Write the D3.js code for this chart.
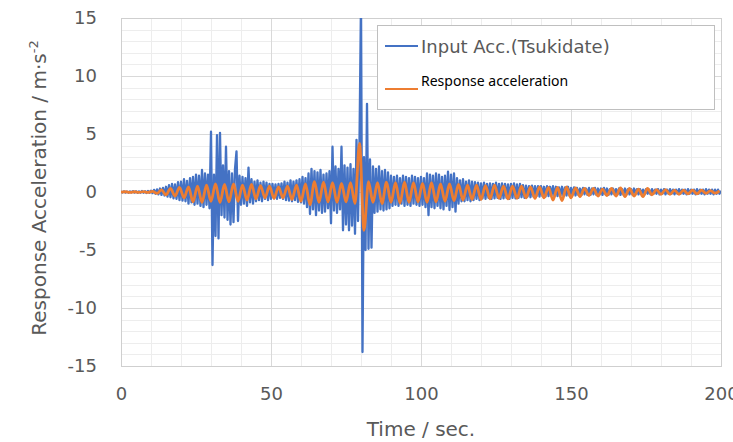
<!DOCTYPE html>
<html>
<head>
<meta charset="utf-8">
<script src="https://cdn.jsdelivr.net/npm/d3@7/dist/d3.min.js"></script>
<style>
    body { margin: 0; background: #fff; }
    svg text { font-family: "DejaVu Sans", Verdana, sans-serif; fill: #595959; }
</style>
</head>
<body>
<div id="chart"></div>
<script>
// sampling steps (sec.) of the two records
var inputStep = 0.5;
var responseStep = 1.5;

// input acceleration, one value every 0.5 s (20 values = 10 s per row)
var inputAcc = [
    0.05, -0.04, 0.06, -0.05, 0.04, -0.06, 0.05, -0.04, 0.07, -0.05, 0.06, -0.07, 0.05, -0.06, 0.08, -0.06, 0.07, -0.08, 0.09, -0.07,
    0.12, -0.1, 0.18, -0.15, 0.22, -0.2, 0.3, -0.25, 0.35, -0.3, 0.45, -0.4, 0.6, -0.45, 0.7, -0.55, 0.65, -0.6, 0.85, -0.7,
    0.9, -0.75, 1.1, -0.8, 0.95, -1.0, 1.2, -0.9, 1.3, -1.1, 1.5, -1.0, 1.4, -1.2, 1.9, -1.3, 1.6, -1.1, 1.5, -1.4,
    5.2, -6.3, 1.5, -3.8, 4.9, -4.0, 5.1, -2.0, 2.3, -2.2, 3.9, -2.4, 1.8, -2.8, 1.6, -2.6, 2.0, 3.5, -2.5, 1.4,
    -1.1, 1.3, -1.0, 1.2, -1.2, 2.1, -0.9, 1.1, -1.0, 0.9, -0.8, 1.0, -0.7, 0.8, -0.8, 0.9, -0.6, 0.8, -0.7, 0.7,
    -0.6, 0.7, -0.55, 0.65, -0.6, 0.7, -0.5, 0.75, -0.6, 0.9, -0.7, 0.8, -0.75, 1.0, -0.8, 0.9, -0.7, 1.0, -0.85, 1.1,
    -0.9, 1.3, -1.0, 1.2, -1.3, 1.6, -1.9, 2.0, -1.5, 1.8, -2.0, 1.7, -1.6, 1.9, -1.8, 1.5, -1.7, 1.6, -1.4, 1.8,
    -2.7, 3.9, -1.6, 2.2, -1.8, 2.0, -1.5, 3.9, -3.3, 2.3, -2.8, 2.1, -3.3, 2.4, -2.9, 2.0, -3.6, 4.5, -2.5, 4.2,
    16.5, -13.8, 3.0, -5.0, 7.6, -4.9, 2.8, -4.8, 2.2, -1.8, 2.0, -1.7, 2.2, -1.5, 1.8, -1.6, 1.9, -1.5, 1.7, -1.4,
    1.4, -1.2, 1.3, -1.1, 1.4, -1.2, 1.2, -1.0, 1.4, -1.2, 1.3, -1.1, 1.2, -1.2, 1.4, -1.0, 1.3, -1.1, 1.2, -1.2,
    1.3, -1.1, 1.2, -1.3, 1.6, -2.0, 1.5, -1.3, 1.4, -1.4, 1.6, -1.2, 1.5, -1.4, 1.3, -1.5, 1.4, -1.2, 1.75, -1.55,
    1.5, -1.3, 1.6, -1.7, 1.2, -1.0, 1.0, -0.8, 1.1, -0.8, 0.9, -0.7, 1.0, -0.8, 0.9, -0.7, 0.85, -0.6, 0.8, -0.7,
    0.75, -0.55, 0.8, -0.6, 0.7, -0.5, 0.75, -0.6, 0.7, -0.55, 0.8, -0.5, 0.7, -0.6, 0.75, -0.55, 0.7, -0.5, 0.65, -0.6,
    0.7, -0.5, 0.75, -0.55, 0.65, -0.5, 0.7, -0.45, 0.6, -0.5, 0.55, -0.4, 0.5, -0.45, 0.55, -0.4, 0.5, -0.35, 0.5, -0.4,
    0.5, -0.35, 0.45, -0.4, 0.5, -0.35, 0.45, -0.3, 0.5, -0.35, 0.45, -0.35, 0.4, -0.3, 0.45, -0.35, 0.4, -0.3, 0.45, -0.3,
    0.35, -0.25, 0.4, -0.3, 0.35, -0.25, 0.3, -0.25, 0.35, -0.2, 0.3, -0.25, 0.35, -0.25, 0.3, -0.2, 0.35, -0.25, 0.3, -0.2,
    0.3, -0.25, 0.35, -0.2, 0.3, -0.25, 0.25, -0.2, 0.3, -0.2, 0.25, -0.2, 0.3, -0.25, 0.25, -0.2, 0.3, -0.2, 0.25, -0.2,
    0.25, -0.2, 0.3, -0.15, 0.25, -0.2, 0.25, -0.15, 0.2, -0.2, 0.25, -0.15, 0.2, -0.2, 0.25, -0.15, 0.2, -0.15, 0.25, -0.2,
    0.2, -0.15, 0.25, -0.2, 0.2, -0.15, 0.25, -0.15, 0.2, -0.2, 0.2, -0.15, 0.25, -0.15, 0.2, -0.15, 0.2, -0.2, 0.25, -0.15,
    0.2, -0.15, 0.2, -0.2, 0.25, -0.15, 0.2, -0.15, 0.2, -0.2, 0.25, -0.15, 0.2, -0.15, 0.2, -0.2, 0.2, -0.15, 0.2, -0.15,
    0.1
];

// response acceleration, peaks every 1.5 s (8 values = 12 s per row)
var responseAcc = [
    -0.02, 0.02, -0.03, 0.02, -0.03, 0.03, -0.04, 0.05,
    -0.12, 0.18, -0.25, 0.3, -0.35, 0.4, -0.5, 0.45,
    -0.85, 0.5, -0.9, 0.6, -0.8, 0.7, -0.9, 0.65,
    -0.85, 0.7, -0.8, 0.6, -0.7, 0.65, -0.6, 0.55,
    -0.5, 0.5, -0.55, 0.45, -0.5, 0.5, -0.65, 0.6,
    -0.8, 0.7, -1.1, 0.9, -0.9, 0.85, -0.85, 0.8,
    -0.9, 0.75, -0.85, 0.8, -1.0, 4.2, -3.3, 0.9,
    -0.9, 0.8, -1.0, 0.85, -0.9, 0.8, -0.95, 0.85,
    -0.9, 0.8, -0.85, 0.75, -0.9, 0.8, -0.85, 0.7,
    -0.8, 0.7, -0.75, 0.65, -0.7, 0.6, -0.65, 0.6,
    -0.65, 0.55, -0.6, 0.6, -0.55, 0.5, -0.6, 0.5,
    -0.55, 0.5, -0.5, 0.45, -0.55, 0.45, -0.5, 0.4,
    -0.7, 0.4, -0.75, 0.45, -0.5, 0.35, -0.4, 0.3,
    -0.3, 0.3, -0.35, 0.25, -0.3, 0.3, -0.35, 0.35,
    -0.4, 0.3, -0.35, 0.25, -0.4, 0.3, -0.25, 0.2,
    -0.2, 0.2, -0.2, 0.15, -0.2, 0.15, -0.15, 0.15,
    -0.15, 0.15, -0.12, 0.12, -0.1, 0.1
];

var xTicks = [0, 50, 100, 150, 200];
var yTicks = [-15, -10, -5, 0, 5, 10, 15];
var seriesNames = ["Input Acc.(Tsukidate)", "Response acceleration"];
var seriesColors = ["#4472c4", "#ed7d31"];

function drawChart() {
    var width = 733, height = 442;
    var plot = { left: 121, top: 18, right: 721, bottom: 366 };

    var svg = d3.select("#chart").append("svg")
        .attr("width", width)
        .attr("height", height);

    var x = d3.scaleLinear().domain([0, 200]).range([plot.left, plot.right]);
    var y = d3.scaleLinear().domain([-15, 15]).range([plot.bottom, plot.top]);

    // minor grid (10 s / 1 m·s-2), then major grid
    var grid = svg.append("g");
    grid.selectAll(".mx").data(x.ticks(20)).enter().append("line")
        .attr("x1", d => Math.round(x(d)) + 0.5).attr("x2", d => Math.round(x(d)) + 0.5)
        .attr("y1", plot.top).attr("y2", plot.bottom)
        .attr("stroke", "#ededed");
    grid.selectAll(".my").data(y.ticks(30)).enter().append("line")
        .attr("y1", d => Math.round(y(d)) + 0.5).attr("y2", d => Math.round(y(d)) + 0.5)
        .attr("x1", plot.left).attr("x2", plot.right)
        .attr("stroke", "#ededed");
    grid.selectAll(".gx").data(xTicks).enter().append("line")
        .attr("x1", d => Math.round(x(d)) + 0.5).attr("x2", d => Math.round(x(d)) + 0.5)
        .attr("y1", plot.top).attr("y2", plot.bottom)
        .attr("stroke", "#d9d9d9");
    grid.selectAll(".gy").data(yTicks).enter().append("line")
        .attr("y1", d => Math.round(y(d)) + 0.5).attr("y2", d => Math.round(y(d)) + 0.5)
        .attr("x1", plot.left).attr("x2", plot.right)
        .attr("stroke", "#d9d9d9");
    svg.append("rect")
        .attr("x", plot.left + 0.5).attr("y", plot.top + 0.5)
        .attr("width", plot.right - plot.left).attr("height", plot.bottom - plot.top)
        .attr("fill", "none").attr("stroke", "#cfcfcf");

    // axes, labels only (plain hyphen for negatives, like the original)
    var xAxis = svg.append("g")
        .attr("transform", "translate(0," + plot.bottom + ")")
        .call(d3.axisBottom(x).tickValues(xTicks).tickFormat(d => String(d)).tickSize(0).tickPadding(21));
    var yAxis = svg.append("g")
        .attr("transform", "translate(" + (plot.left - 24) + ",0)")
        .call(d3.axisLeft(y).tickValues(yTicks).tickFormat(d => String(d)).tickSize(0).tickPadding(0));
    [xAxis, yAxis].forEach(function (a) {
        a.select(".domain").remove();
        a.selectAll("text").attr("font-size", 18).attr("fill", "#595959")
            .style("font-family", '"DejaVu Sans", Verdana, sans-serif');
    });

    // series
    svg.append("clipPath").attr("id", "clip").append("rect")
        .attr("x", plot.left).attr("y", plot.top)
        .attr("width", plot.right - plot.left).attr("height", plot.bottom - plot.top);

    var inputLine = d3.line()
        .x((d, i) => x(i * inputStep))
        .y(d => y(d));
    var respLine = d3.line()
        .x((d, i) => x(i * responseStep))
        .y(d => y(d))
        .curve(d3.curveMonotoneX);

    var series = svg.append("g").attr("clip-path", "url(#clip)");
    series.append("path").datum(inputAcc)
        .attr("d", inputLine)
        .attr("fill", "none").attr("stroke", seriesColors[0])
        .attr("stroke-width", 2.3).attr("stroke-linejoin", "round");
    series.append("path").datum(responseAcc)
        .attr("d", respLine)
        .attr("fill", "none").attr("stroke", seriesColors[1])
        .attr("stroke-width", 2.8).attr("stroke-linejoin", "round");

    // legend
    var lg = svg.append("g");
    lg.append("rect")
        .attr("x", 377.5).attr("y", 25.5).attr("width", 337).attr("height", 84)
        .attr("fill", "#fff").attr("stroke", "#bfbfbf");
    lg.append("line").attr("x1", 385).attr("x2", 418).attr("y1", 46).attr("y2", 46)
        .attr("stroke", seriesColors[0]).attr("stroke-width", 2.2);
    lg.append("text").attr("x", 421).attr("y", 53)
        .attr("font-size", 18).text(seriesNames[0]);
    lg.append("line").attr("x1", 385).attr("x2", 418).attr("y1", 89).attr("y2", 89)
        .attr("stroke", seriesColors[1]).attr("stroke-width", 2.2);
    lg.append("text").attr("x", 421).attr("y", 86)
        .attr("font-size", 14)
        .style("font-family", '"Noto Sans", sans-serif').style("fill", "#000")
        .text(seriesNames[1]);

    // axis titles
    svg.append("text")
        .attr("x", 421).attr("y", 436)
        .attr("text-anchor", "middle").attr("font-size", 20)
        .text("Time / sec.");
    var yt = svg.append("text")
        .attr("transform", "translate(46,188) rotate(-90)")
        .attr("text-anchor", "middle").attr("font-size", 20);
    yt.append("tspan").text("Response Acceleration / m\u00b7s");
    yt.append("tspan").attr("dy", -8).attr("font-size", 13).text("-2");
}

drawChart();
</script>
</body>
</html>
